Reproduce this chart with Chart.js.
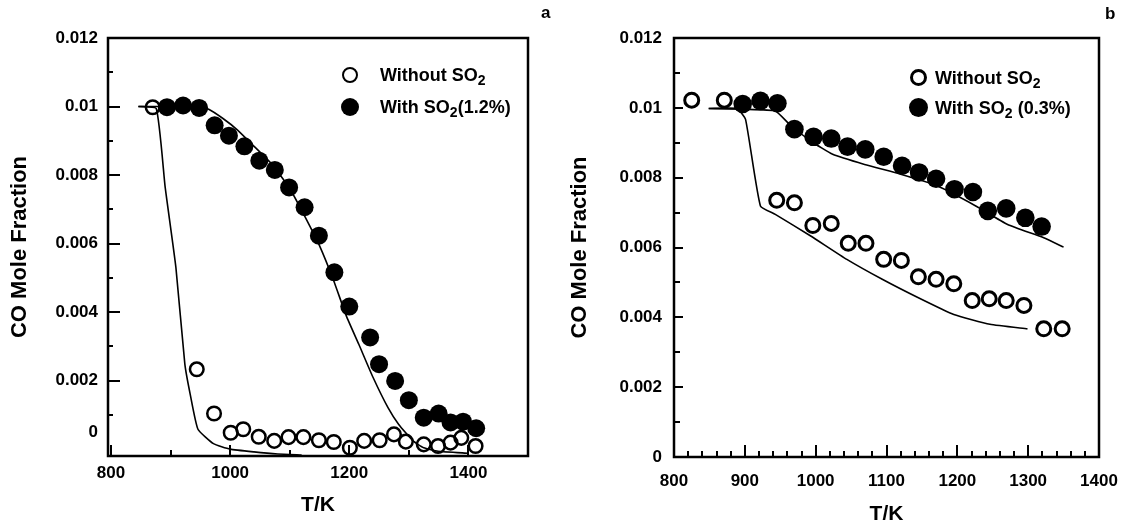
<!DOCTYPE html>
<html>
<head>
<meta charset="utf-8">
<title>CO mole fraction vs T</title>
<script src="https://cdn.jsdelivr.net/npm/chart.js@4/dist/chart.umd.min.js"></script>
<style>
  body { margin: 0; background: #fff; width: 1123px; height: 527px; position: relative; overflow: hidden;
         font-family: "Liberation Sans", Arial, sans-serif; color: #000; }
  .panel { position: absolute; top: 0; height: 527px; }
  #panelA { left: 0; width: 560px; }
  #panelB { left: 560px; width: 563px; }
  .tag { position: absolute; font-weight: bold; font-size: 17px; }
  .leg { position: absolute; font-weight: bold; font-size: 18px; line-height: 20px; white-space: nowrap; }
  .leg sub { font-size: 14px; vertical-align: -4px; line-height: 0; }
  .dot { position: absolute; border-radius: 50%; box-sizing: border-box; }
  .dot.open { border: 2.6px solid #000; background: #fff; }
  .dot.fill { background: #000; }
</style>
</head>
<body>
<div class="panel" id="panelA"><canvas id="chartA"></canvas></div>
<div class="panel" id="panelB"><canvas id="chartB"></canvas></div>

<div class="tag" style="left:541px; top:3px;">a</div>
<div class="tag" style="left:1105px; top:4px;">b</div>

<!-- legend a -->
<div class="dot open" style="left:342px; top:67px; width:16px; height:16px;"></div>
<div class="leg" style="left:380px; top:65px;">Without SO<sub>2</sub></div>
<div class="dot fill" style="left:341px; top:98px; width:18px; height:18px;"></div>
<div class="leg" style="left:380px; top:97px;">With SO<sub>2</sub>(1.2%)</div>

<!-- legend b -->
<div class="dot open" style="left:910px; top:69px; width:17px; height:17px; border-width:3px;"></div>
<div class="leg" style="left:935px; top:68px;">Without SO<sub>2</sub></div>
<div class="dot fill" style="left:909px; top:98px; width:19px; height:19px;"></div>
<div class="leg" style="left:935px; top:98px;">With SO<sub>2</sub> (0.3%)</div>

<script>
// -----------------------------
// Panel a data (SO2 1.2%)
// -----------------------------
const tempOpenA = [870, 944, 973, 1001, 1022, 1048, 1074, 1098, 1123, 1149, 1174, 1201, 1225, 1251, 1275, 1295, 1325, 1349, 1370, 1388, 1412];
const coOpenA = [0.00998, 0.00233, 0.00104, 0.00048, 0.00058, 0.00036, 0.00024, 0.00035, 0.00035, 0.00026, 0.00021, 0.00004, 0.00024, 0.00026, 0.00043, 0.00022, 0.00014, 0.00009, 0.00019, 0.00033, 0.00009];
const tempFilledA = [894, 921, 948, 974, 998, 1024, 1049, 1075, 1099, 1125, 1149, 1175, 1200, 1235, 1250, 1277, 1300, 1325, 1350, 1370, 1391, 1413];
const coFilledA = [0.00998, 0.01003, 0.00996, 0.00945, 0.00915, 0.00884, 0.00842, 0.00815, 0.00764, 0.00706, 0.00623, 0.00516, 0.00416, 0.00326, 0.00248, 0.00199, 0.00143, 0.00092, 0.00104, 0.00078, 0.0008, 0.00061];
const tempModelOpenA = [846, 876, 891, 909, 924, 933, 946, 972, 1000, 1040, 1080, 1120];
const coModelOpenA = [0.01, 0.00994, 0.00764, 0.0053, 0.00248, 0.0016, 0.00058, 0.00016, 0, -0.00008, -0.00014, -0.00017];
const tempModelFilledA = [846, 900, 950, 964, 988, 1012, 1036, 1072, 1102, 1126, 1150, 1174, 1195, 1216, 1240, 1265, 1283, 1307, 1325, 1349, 1400];
const coModelFilledA = [0.01, 0.01, 0.00998, 0.00992, 0.00965, 0.00932, 0.00891, 0.00828, 0.00755, 0.00677, 0.00594, 0.00491, 0.00389, 0.00306, 0.00209, 0.00121, 0.00072, 0.00024, 0.00004, -0.00006, -0.00012];

const xLabelsA = [800, 1000, 1200, 1400];
const xMinorA = [900, 1100, 1300];
// the "0" label sits a little above the bottom edge in the original figure
const yLabelsA = [0.0005, 0.002, 0.004, 0.006, 0.008, 0.01, 0.012];
const yTextA = ["0", "0.002", "0.004", "0.006", "0.008", "0.01", "0.012"];
const yMajorA = [0.002, 0.004, 0.006, 0.008, 0.01, 0.012];
const yMinorA = [0.001, 0.003, 0.005, 0.007, 0.009, 0.011];

// -----------------------------
// Panel b data (SO2 0.3%)
// -----------------------------
const tempOpenB = [825, 871, 945, 970, 996, 1022, 1046, 1071, 1096, 1121, 1145, 1170, 1195, 1221, 1245, 1269, 1294, 1322, 1348];
const coOpenB = [0.01022, 0.01022, 0.00735, 0.00728, 0.00663, 0.00669, 0.00612, 0.00612, 0.00566, 0.00563, 0.00516, 0.00509, 0.00496, 0.00448, 0.00453, 0.00448, 0.00434, 0.00367, 0.00367];
const tempFilledB = [897, 922, 946, 970, 997, 1022, 1045, 1070, 1096, 1122, 1146, 1170, 1196, 1222, 1243, 1269, 1296, 1319];
const coFilledB = [0.01011, 0.0102, 0.01013, 0.00939, 0.00917, 0.00912, 0.00889, 0.00881, 0.0086, 0.00834, 0.00815, 0.00797, 0.00767, 0.00759, 0.00705, 0.00712, 0.00685, 0.0066];
const tempModelOpenB = [849, 889, 901, 922, 943, 993, 1044, 1094, 1145, 1195, 1246, 1299];
const coModelOpenB = [0.00998, 0.00998, 0.00967, 0.00719, 0.00695, 0.00633, 0.00566, 0.00509, 0.00456, 0.00408, 0.0038, 0.00367];
const tempModelFilledB = [849, 900, 943, 963, 993, 1024, 1069, 1120, 1170, 1226, 1271, 1322, 1350];
const coModelFilledB = [0.00998, 0.00996, 0.00991, 0.00953, 0.00905, 0.00867, 0.00838, 0.0081, 0.00778, 0.00719, 0.00666, 0.00628, 0.00601];

const xLabelsB = [800, 900, 1000, 1100, 1200, 1300, 1400];
const xMinorB = [820, 840, 860, 880, 920, 940, 960, 980, 1020, 1040, 1060, 1080, 1120, 1140, 1160, 1180, 1220, 1240, 1260, 1280, 1320, 1340, 1360, 1380];
const yLabelsB = [0, 0.002, 0.004, 0.006, 0.008, 0.01, 0.012];
const yTextB = ["0", "0.002", "0.004", "0.006", "0.008", "0.01", "0.012"];
const yMajorB = [0.002, 0.004, 0.006, 0.008, 0.01];
const yMinorB = [0.001, 0.003, 0.005, 0.007, 0.009, 0.011];

Chart.defaults.font.family = "'Liberation Sans', Arial, sans-serif";
Chart.defaults.color = "#000";

const zip = (xs, ys) => xs.map((x, i) => ({ x, y: ys[i] }));

// -----------------------------
// Frame + inward tick marks
// -----------------------------
const frameTicks = {
    id: "frameTicks",
    afterDatasetsDraw(chart, args, opts) {
        const { ctx, chartArea: a, scales: { x, y } } = chart;
        ctx.save();
        ctx.strokeStyle = "#000";
        ctx.lineWidth = 2;
        ctx.beginPath();
        const xt = (list, len) => list.forEach(v => {
            const px = Math.round(x.getPixelForValue(v));
            ctx.moveTo(px, a.bottom); ctx.lineTo(px, a.bottom - len);
        });
        const yt = (list, len) => list.forEach(v => {
            const py = Math.round(y.getPixelForValue(v));
            ctx.moveTo(a.left, py); ctx.lineTo(a.left + len, py);
        });
        xt(opts.xMajor, opts.xMajorLen);
        xt(opts.xMinor, opts.xMinorLen);
        yt(opts.yMajor, opts.yMajorLen);
        yt(opts.yMinor, opts.yMinorLen);
        ctx.stroke();
        ctx.lineWidth = 2.5;
        ctx.strokeRect(a.left, a.top, a.right - a.left, a.bottom - a.top);
        ctx.restore();
    }
};

function makePanel(canvasId, p) {
    const ctx = document.getElementById(canvasId).getContext("2d");
    return new Chart(ctx, {
        type: "scatter",
        data: {
            datasets: [
                { data: p.open, pointRadius: p.openR, pointBorderWidth: p.openBorder, pointBackgroundColor: "rgba(255,255,255,0)", pointBorderColor: "#000", showLine: false, clip: false },
                { data: p.filled, pointRadius: p.filledR, pointBorderWidth: 0, pointBackgroundColor: "#000", pointBorderColor: "#000", showLine: false, clip: false },
                { data: p.modelOpen, showLine: true, borderColor: "#000", borderWidth: 1.6, pointRadius: 0, tension: 0.15 },
                { data: p.modelFilled, showLine: true, borderColor: "#000", borderWidth: 1.6, pointRadius: 0, tension: 0.15 }
            ]
        },
        options: {
            responsive: true,
            maintainAspectRatio: false,
            animation: false,
            layout: { padding: { left: 0, right: p.padRight, top: 38, bottom: 0 } },
            plugins: {
                legend: { display: false },
                tooltip: { enabled: false },
                frameTicks: p.ticks
            },
            scales: {
                x: {
                    type: "linear", min: p.xMin, max: p.xMax,
                    grid: { display: false, drawTicks: false },
                    border: { display: false },
                    afterBuildTicks: s => { s.ticks = p.xLabels.map(v => ({ value: v })); },
                    // keep the end labels from pulling the plot box inwards
                    afterFit: s => { s.height = p.xHeight; s.paddingLeft = 0; s.paddingRight = 0; },
                    ticks: {
                        autoSkip: false, maxRotation: 0, padding: p.xPad, font: { size: 17, weight: "bold" },
                        callback: v => String(v)
                    },
                    title: { display: true, text: "T/K", font: { size: 21, weight: "bold" }, padding: { top: 0, bottom: p.xTitlePad } }
                },
                y: {
                    type: "linear", min: p.yMin, max: 0.012,
                    grid: { display: false, drawTicks: false },
                    border: { display: false },
                    afterBuildTicks: s => { s.ticks = p.yLabels.map(v => ({ value: v })); },
                    afterFit: s => { s.width = p.yWidth; },
                    ticks: {
                        autoSkip: false, padding: p.yPad, font: { size: 17, weight: "bold" },
                        callback: v => p.yText[p.yLabels.indexOf(v)]
                    },
                    title: { display: true, text: "CO Mole Fraction", font: { size: 22, weight: "bold" }, padding: { top: 7, bottom: 0 } }
                }
            }
        },
        plugins: [frameTicks]
    });
}

makePanel("chartA", {
    open: zip(tempOpenA, coOpenA),
    filled: zip(tempFilledA, coFilledA),
    modelOpen: zip(tempModelOpenA, coModelOpenA),
    modelFilled: zip(tempModelFilledA, coModelFilledA),
    openR: 6.8, openBorder: 2.5, filledR: 9,
    xMin: 795, xMax: 1500, yMin: -0.0002,
    xLabels: xLabelsA, yLabels: yLabelsA, yText: yTextA,
    padRight: 32, yWidth: 108, xHeight: 71, xPad: 7, yPad: 10, xTitlePad: 9,
    ticks: { xMajor: xLabelsA, xMinor: xMinorA, yMajor: yMajorA, yMinor: yMinorA, xMajorLen: 11, xMinorLen: 6, yMajorLen: 12, yMinorLen: 5 }
});

makePanel("chartB", {
    open: zip(tempOpenB, coOpenB),
    filled: zip(tempFilledB, coFilledB),
    modelOpen: zip(tempModelOpenB, coModelOpenB),
    modelFilled: zip(tempModelFilledB, coModelFilledB),
    openR: 7, openBorder: 3, filledR: 9.3,
    xMin: 800, xMax: 1400, yMin: 0,
    xLabels: xLabelsB, yLabels: yLabelsB, yText: yTextB,
    padRight: 24, yWidth: 114, xHeight: 70, xPad: 14, yPad: 12, xTitlePad: 0,
    ticks: { xMajor: xLabelsB, xMinor: xMinorB, yMajor: yMajorB, yMinor: yMinorB, xMajorLen: 12, xMinorLen: 6, yMajorLen: 9, yMinorLen: 6 }
});
</script>
</body>
</html>
